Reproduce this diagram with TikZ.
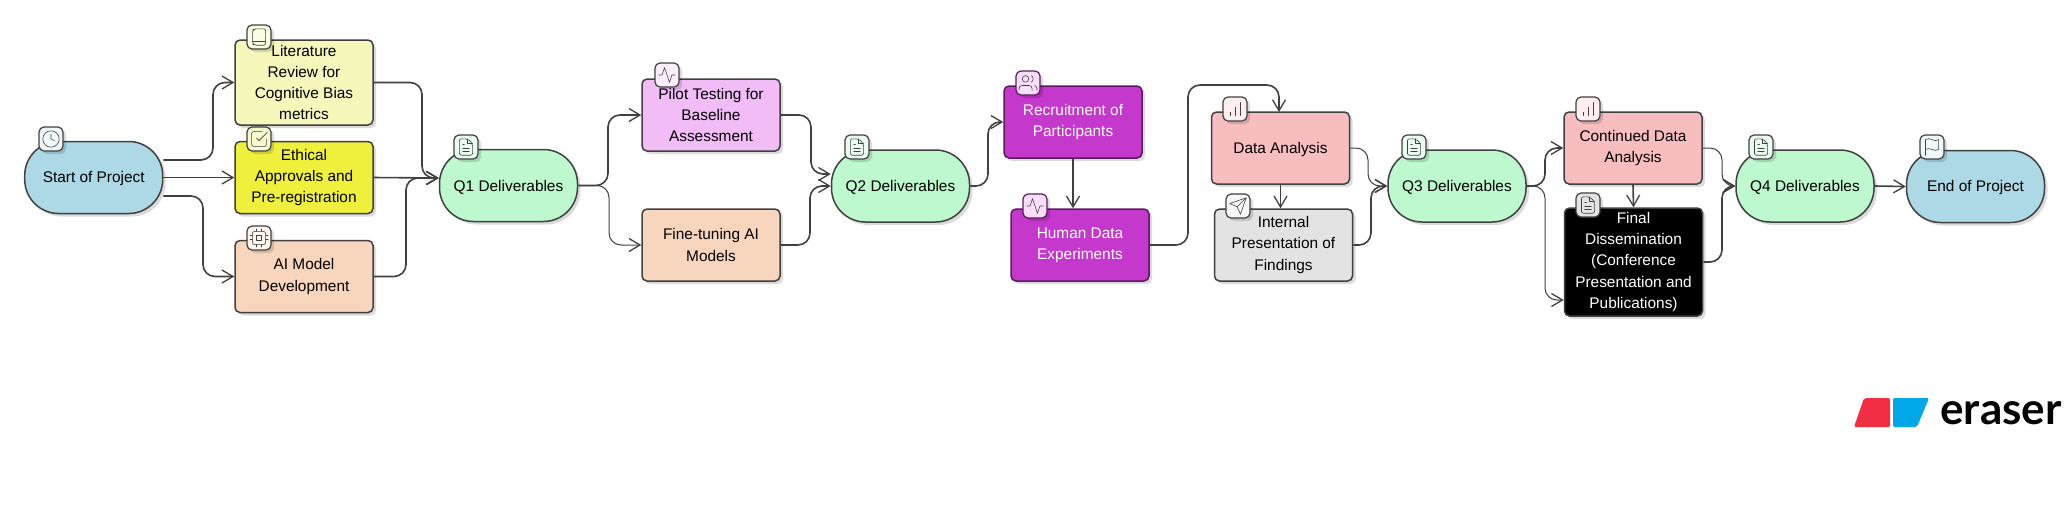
\documentclass[tikz,border=0pt]{standalone}
\usepackage{fontspec}
\setmainfont{Liberation Sans}
\newfontfamily\logofont{Lato}
\usetikzlibrary{arrows.meta,shadows,calc}
\definecolor{edgegray}{HTML}{404040}
\definecolor{darkpurple}{HTML}{5A1A60}
\definecolor{cblue}{HTML}{ADD8E6}
\definecolor{cyellowl}{HTML}{F5F7BB}
\definecolor{cyellow}{HTML}{EEF03C}
\definecolor{corange}{HTML}{F8D6BD}
\definecolor{cgreen}{HTML}{BDF8CF}
\definecolor{cpink}{HTML}{F2BDF7}
\definecolor{cpurple}{HTML}{C438CC}
\definecolor{cred}{HTML}{F7BDBF}
\definecolor{cgray}{HTML}{E3E3E3}
\definecolor{logored}{HTML}{F22E44}
\definecolor{logoblue}{HTML}{00A8E8}
\tikzset{
  x=0.5pt,y=-0.5pt,
  shadowed/.style={drop shadow={shadow xshift=1.5pt,shadow yshift=-1.5pt,opacity=.14,fill=black}},
  basenode/.style={draw=edgegray,line width=0.75pt,shadowed,inner sep=0pt,align=center,
    font=\fontsize{7.7}{10.66}\selectfont,minimum width=69pt,minimum height=36pt,
    execute at begin node={\rule{0pt}{7pt}}},
  pill/.style={basenode,rounded corners=17pt,fill=#1},
  rbox/.style={basenode,rounded corners=2.5pt,fill=#1},
  iconbox/.style={draw=edgegray,line width=0.6pt,rounded corners=2.5pt,fill=#1,minimum width=12pt,minimum height=12pt,inner sep=0pt,shadowed},
  conn/.style={draw=edgegray,line width=0.8pt,rounded corners=6pt,-{Straight Barb[length=5.5pt,width=6.5pt,line width=0.65pt]}},
  thinconn/.style={conn,line width=0.5pt},
  glyph/.style={draw=edgegray,line width=0.3pt,line join=round,line cap=round,rounded corners=0pt,fill=none},
  clockic/.pic={\begin{scope}[scale=.82,shift={(-12,-12)},glyph]
    \draw (12,12) circle[radius=10]; \draw (12,6)--(12,12)--(16,14);\end{scope}},
  bookic/.pic={\begin{scope}[scale=.82,shift={(-12,-12)},glyph]
    \draw[rounded corners=1pt] (6,2)--(20,2)--(20,22)--(6,22)--(4,20)--(4,4)--cycle; \draw (4.5,17)--(20,17);\end{scope}},
  checkic/.pic={\begin{scope}[scale=.82,shift={(-12,-12)},glyph]
    \draw (9,11)--(12,14)--(22,4);
    \draw[rounded corners=1pt] (21,12)--(21,21)--(3,21)--(3,3)--(16,3);\end{scope}},
  cpuic/.pic={\begin{scope}[scale=.82,shift={(-12,-12)},glyph]
    \draw[rounded corners=1pt] (4,4) rectangle (20,20); \draw (9,9) rectangle (15,15);
    \foreach \a in {9,15}{\draw (\a,1)--(\a,4); \draw (\a,20)--(\a,23);}
    \foreach \a in {9,14}{\draw (1,\a)--(4,\a); \draw (20,\a)--(23,\a);}\end{scope}},
  docic/.pic={\begin{scope}[scale=.82,shift={(-12,-12)},glyph]
    \draw[rounded corners=1pt] (14,2)--(4,2)--(4,22)--(20,22)--(20,8)--cycle;
    \draw (14,2)--(14,8)--(20,8); \draw (16,13)--(8,13); \draw (16,17)--(8,17); \draw (10,9)--(8,9);\end{scope}},
  activityic/.pic={\begin{scope}[scale=.82,shift={(-12,-12)},glyph]
    \draw (22,12)--(18,12)--(15,21)--(9,3)--(6,12)--(2,12);\end{scope}},
  usersic/.pic={\begin{scope}[scale=.82,shift={(-12,-12)},glyph]
    \draw (17,21)--(17,19) .. controls (17,16.5) and (15.5,15) .. (13,15)--(5,15) .. controls (2.5,15) and (1,16.5) .. (1,19)--(1,21);
    \draw (9,7) circle[radius=4];
    \draw (23,21)--(23,19) .. controls (23,17.5) and (22,16) .. (20,15.13);
    \draw (16,3.13) .. controls (19,4) and (19,10) .. (16,10.88);\end{scope}},
  barsic/.pic={\begin{scope}[scale=.82,shift={(-12,-12)},glyph]
    \draw (12,20)--(12,10); \draw (18,20)--(18,4); \draw (6,20)--(6,16);\end{scope}},
  sendic/.pic={\begin{scope}[scale=.82,shift={(-12,-12)},glyph]
    \draw (22,2)--(11,13); \draw (22,2)--(15,22)--(11,13)--(2,9)--cycle;\end{scope}},
  flagic/.pic={\begin{scope}[scale=.82,shift={(-12,-12)},glyph]
    \draw (4,15) .. controls (6,13.5) and (9,13.5) .. (12,15) .. controls (15,16.5) and (18,16.5) .. (20,15)--(20,3) .. controls (18,4.5) and (15,4.5) .. (12,3) .. controls (9,1.5) and (6,1.5) .. (4,3)--cycle;
    \draw (4,22)--(4,15);\end{scope}},
}
\newcommand{\iconnode}[5]{\node[iconbox=#4] (#1) at (#2,#3) {}; \pic at (#1) {#5};}
\begin{document}
\begin{tikzpicture}
\useasboundingbox (0,0) rectangle (2069,516);
% nodes
\node[pill=cblue] (start) at (93.7,177.5) {Start of Project};
\node[rbox=cyellowl,minimum height=42.5pt] (lit) at (304,82.5) {Literature\\Review for\\Cognitive Bias\\metrics};
\node[rbox=cyellow] (eth) at (304,177.5) {Ethical\\Approvals and\\Pre-registration};
\node[rbox=corange] (aim) at (304,276.5) {AI Model\\Development};
\node[pill=cgreen] (q1) at (508.5,185.5) {Q1 Deliverables};
\node[rbox=cpink] (pilot) at (711,115) {Pilot Testing for\\Baseline\\Assessment};
\node[rbox=corange] (fine) at (711,245) {Fine-tuning AI\\Models};
\node[pill=cgreen] (q2) at (900.5,186) {Q2 Deliverables};
\node[rbox=cpurple,text=white,draw=darkpurple] (rec) at (1073,122) {Recruitment of\\Participants};
\node[rbox=cpurple,text=white,draw=darkpurple] (hum) at (1080,245) {Human Data\\Experiments};
\node[rbox=cred] (data) at (1280.5,148) {Data Analysis};
\node[rbox=cgray] (int) at (1283.5,245) {Internal\\Presentation of\\Findings};
\node[pill=cgreen] (q3) at (1457,186) {Q3 Deliverables};
\node[rbox=cred] (cont) at (1633,148) {Continued Data\\Analysis};
\node[rbox=black,text=white,minimum height=54pt] (fin) at (1633.5,262) {Final\\Dissemination\\(Conference\\Presentation and\\Publications)};
\node[pill=cgreen] (q4) at (1805,186) {Q4 Deliverables};
\node[pill=cblue] (end) at (1975.5,186.5) {End of Project};
% connectors
\coordinate (q1in) at ([yshift=3.75pt]q1.west);
\draw[conn] ([yshift=8.75pt]start.east) -- (213,160) |- (lit.west);
\draw[conn] (start.east) -- (eth.west);
\draw[conn] ([yshift=-9.25pt]start.east) -- (203,196) |- (aim.west);
\draw[conn] (lit.east) -- (422,82.5) |- (q1in);
\draw[conn] (eth.east) -- (q1in);
\draw[conn] (aim.east) -- (406,276.5) |- (q1in);
\draw[conn] (q1.east) -- (608,185.5) |- (pilot.west);
\draw[thinconn] (q1.east) -- (609,185.5) |- (fine.west);
\draw[conn] (pilot.east) -- (811,115) |- ([yshift=6pt]q2.west);
\draw[conn] (fine.east) -- (810,245) |- (q2.west);
\draw[conn] (q2.east) -- (988,186) |- (rec.west);
\draw[conn] (rec.south) -- (rec.south |- hum.north);
\draw[conn] (hum.east) -- (1188,245) -- (1188,85) -- (1279,85) -- (1279,112);
\draw[conn] (data.south) -- (data.south |- int.north);
\draw[thinconn] (data.east) -- (1368,148) |- (q3.west);
\draw[conn] (int.east) -- (1371,245) |- (q3.west);
\draw[conn] (q3.east) -- (1545,186) |- (cont.west);
\draw[thinconn] (q3.east) -- (1545,186) |- ([yshift=-19pt]fin.west);
\draw[conn] (cont.south) -- (fin.north);
\draw[thinconn] (cont.east) -- (1722,148) |- (q4.west);
\draw[conn] (fin.east) -- (1722,262) |- (q4.west);
\draw[conn] (q4.east) -- (end.west);
% icons
\iconnode{i1}{51}{139}{cblue!18}{clockic}
\iconnode{i2}{259}{37}{cyellowl!40}{bookic}
\iconnode{i3}{259}{139}{cyellowl!70}{checkic}
\iconnode{i4}{259}{238}{corange!25}{cpuic}
\iconnode{i5}{466}{147}{cgreen!30}{docic}
\iconnode{i6}{667}{75}{cpink!25}{activityic}
\iconnode{i7}{857}{147}{cgreen!30}{docic}
\node[iconbox=cpink!50,draw=darkpurple] (i8) at (1028,83) {}; \pic at (i8) {usersic};
\node[iconbox=cpink!50,draw=darkpurple] (i9) at (1035,206) {}; \pic at (i9) {activityic};
\iconnode{i10}{1235}{109}{cred!25}{barsic}
\iconnode{i11}{1238}{206}{cgray!30}{sendic}
\iconnode{i12}{1414}{147}{cgreen!30}{docic}
\iconnode{i13}{1588}{109}{cred!25}{barsic}
\iconnode{i14}{1588}{205}{cgray}{docic}
\iconnode{i15}{1761}{147}{cgreen!30}{docic}
\iconnode{i16}{1932}{147}{cblue!18}{flagic}
% logo
\fill[logored,rounded corners=1pt] (1864,398)--(1890,398)--(1890,427)--(1854,427)--cycle;
\fill[logoblue,rounded corners=1pt] (1893,398)--(1929,398)--(1917,427)--(1893,427)--cycle;
\node[anchor=base west,inner sep=0pt,font=\fontsize{22}{22}\selectfont\logofont\bfseries] (logotext) at (1940,424) {eraser};
\end{tikzpicture}
\end{document}
